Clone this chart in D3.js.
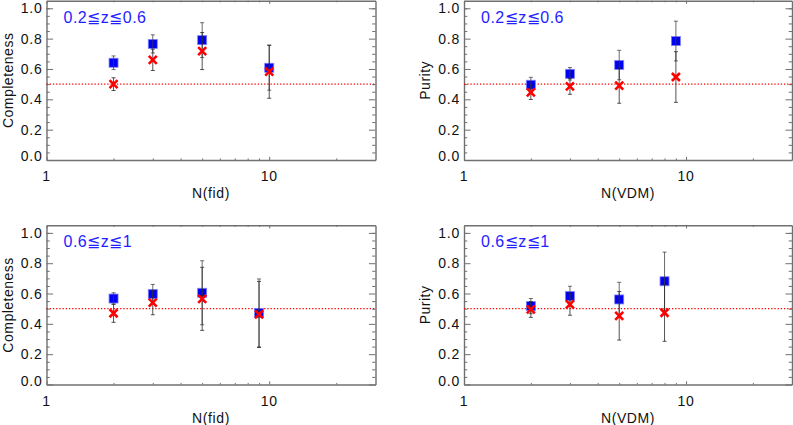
<!DOCTYPE html>
<meta charset="utf-8">
<head>
  <title>Completeness and purity</title>
</head>

<style>
body { margin: 0; background: #fff; }
text { font-family: "Liberation Sans", Arial, sans-serif; fill: #111; }
.axis line, .axis path { stroke: #707070; }
</style>

<body>
  <svg id="chart" width="793" height="425"></svg>

  <script src="https://cdnjs.cloudflare.com/ajax/libs/d3/7.8.5/d3.min.js"></script>
  <script>
// ---- data ----
// top left: completeness vs N(fid), 0.2<=z<=0.6
var xCompLo = [2, 3, 5, 10]
var compLoBlue = [0.641, 0.765, 0.790, 0.608]
var compLoBlueErr = [0.045, 0.060, 0.115, 0.148]
var compLoRed = [0.500, 0.660, 0.718, 0.582]
var compLoRedErr = [0.042, 0.070, 0.122, 0.175]

// top right: purity vs N(VDM), 0.2<=z<=0.6
var xPurLo = [2, 3, 5, 9]
var purLoBlue = [0.496, 0.568, 0.626, 0.784]
var purLoBlueErr = [0.049, 0.041, 0.097, 0.131]
var purLoRed = [0.446, 0.485, 0.490, 0.547]
var purLoRedErr = [0.047, 0.052, 0.116, 0.167]

// bottom left: completeness vs N(fid), 0.6<=z<=1
var xCompHi = [2, 3, 5, 9]
var compHiBlue = [0.567, 0.597, 0.605, 0.472]
var compHiBlueErr = [0.038, 0.063, 0.211, 0.224]
var compHiRed = [0.470, 0.540, 0.565, 0.462]
var compHiRedErr = [0.060, 0.080, 0.208, 0.218]

// bottom right: purity vs N(VDM), 0.6<=z<=1
var xPurHi = [2, 3, 5, 8]
var purHiBlue = [0.517, 0.583, 0.561, 0.681]
var purHiBlueErr = [0.050, 0.065, 0.113, 0.192]
var purHiRed = [0.495, 0.528, 0.453, 0.473]
var purHiRedErr = [0.052, 0.071, 0.160, 0.188]

var xDomain = [1, 30]
var yDomain = [0, 1.05]
var xMajor = [1, 10]
var xMinor = [2, 3, 4, 5, 6, 7, 8, 9, 20]
var yMajor = [0, 0.2, 0.4, 0.6, 0.8, 1.0]
var yMinor = [0.05, 0.1, 0.15, 0.25, 0.3, 0.35, 0.45, 0.5, 0.55, 0.65, 0.7, 0.75, 0.85, 0.9, 0.95, 1.0]
var threshold = 0.5

var panels = [
  {x: xCompLo, blue: compLoBlue, blueErr: compLoBlueErr, red: compLoRed, redErr: compLoRedErr,
   xlab: 'N(fid)', ylab: 'Completeness', note: '0.2≦z≦0.6', left: 46.5, right: 375.5, top: 0.7, bottom: 160},
  {x: xPurLo, blue: purLoBlue, blueErr: purLoBlueErr, red: purLoRed, redErr: purLoRedErr,
   xlab: 'N(VDM)', ylab: 'Purity', note: '0.2≦z≦0.6', left: 464, right: 792, top: 0.7, bottom: 160},
  {x: xCompHi, blue: compHiBlue, blueErr: compHiBlueErr, red: compHiRed, redErr: compHiRedErr,
   xlab: 'N(fid)', ylab: 'Completeness', note: '0.6≦z≦1', left: 46.5, right: 375.5, top: 225.3, bottom: 384.5},
  {x: xPurHi, blue: purHiBlue, blueErr: purHiBlueErr, red: purHiRed, redErr: purHiRedErr,
   xlab: 'N(VDM)', ylab: 'Purity', note: '0.6≦z≦1', left: 464, right: 792, top: 225.3, bottom: 384.5}
]

var svg = d3.select('#chart')

panels.forEach(function(p) {
  var x = d3.scaleLog().domain(xDomain).range([p.left, p.right])
  var y = d3.scaleLinear().domain(yDomain).range([p.bottom, p.top])
  var w = p.right - p.left, h = p.bottom - p.top
  // IDL style tick lengths: fraction of the plot size
  var xt = 0.02 * h, yt = 0.02 * w
  var g = svg.append('g')

  // axes on all four sides, ticks pointing inward
  var bottomAxis = d3.axisBottom(x).tickValues(xMajor).tickSize(-xt).tickFormat('')
  var topAxis = d3.axisTop(x).tickValues(xMajor).tickSize(-xt).tickFormat('')
  var leftAxis = d3.axisLeft(y).tickValues(yMajor).tickSize(-yt).tickFormat('')
  var rightAxis = d3.axisRight(y).tickValues(yMajor).tickSize(-yt).tickFormat('')

  g.append('g').attr('class', 'axis').attr('transform', 'translate(0,' + p.bottom + ')')
    .call(bottomAxis.tickSizeOuter(0))
  g.append('g').attr('class', 'axis').attr('transform', 'translate(0,' + p.top + ')')
    .call(topAxis.tickSizeOuter(0))
  g.append('g').attr('class', 'axis').attr('transform', 'translate(' + p.left + ',0)')
    .call(leftAxis.tickSizeOuter(0))
  g.append('g').attr('class', 'axis').attr('transform', 'translate(' + p.right + ',0)')
    .call(rightAxis.tickSizeOuter(0))

  // minor ticks
  g.append('g').attr('class', 'axis').attr('transform', 'translate(0,' + p.bottom + ')')
    .call(d3.axisBottom(x).tickValues(xMinor).tickSize(-xt / 2).tickSizeOuter(0).tickFormat(''))
    .select('.domain').remove()
  g.append('g').attr('class', 'axis').attr('transform', 'translate(0,' + p.top + ')')
    .call(d3.axisTop(x).tickValues(xMinor).tickSize(-xt / 2).tickSizeOuter(0).tickFormat(''))
    .select('.domain').remove()
  g.append('g').attr('class', 'axis').attr('transform', 'translate(' + p.left + ',0)')
    .call(d3.axisLeft(y).tickValues(yMinor).tickSize(-yt / 2).tickSizeOuter(0).tickFormat(''))
    .select('.domain').remove()
  g.append('g').attr('class', 'axis').attr('transform', 'translate(' + p.right + ',0)')
    .call(d3.axisRight(y).tickValues(yMinor).tickSize(-yt / 2).tickSizeOuter(0).tickFormat(''))
    .select('.domain').remove()

  g.selectAll('.axis path.domain').attr('stroke-width', 1.4)

  // tick labels
  g.selectAll('.ylab')
    .data(yMajor)
    .enter().append('text')
    .attr('x', p.left - 4)
    .attr('y', function(d) { return Math.min(y(d), p.bottom - 4) })
    .attr('dy', '0.36em')
    .attr('text-anchor', 'end')
    .style('font-size', '14px')
    .style('letter-spacing', '0.8px')
    .text(function(d) { return d3.format('.1f')(d) })

  g.selectAll('.xlab')
    .data(xMajor)
    .enter().append('text')
    .attr('x', function(d) { return x(d) })
    .attr('y', p.bottom + 21)
    .attr('text-anchor', 'middle')
    .style('font-size', '14px')
    .style('letter-spacing', '0.8px')
    .text(function(d) { return d })

  // axis titles
  g.append('text')
    .attr('x', (p.left + p.right) / 2)
    .attr('y', p.bottom + 38)
    .attr('text-anchor', 'middle')
    .style('font-size', '14px')
    .style('letter-spacing', '0.6px')
    .text(p.xlab)

  g.append('text')
    .attr('transform', 'translate(' + (p.left - 34) + ',' + ((p.top + p.bottom) / 2) + ') rotate(-90)')
    .attr('text-anchor', 'middle')
    .style('font-size', '14px')
    .style('letter-spacing', '0.5px')
    .text(p.ylab)

  // redshift note
  g.append('text')
    .attr('x', p.left + 17)
    .attr('y', p.top + 22)
    .style('font-size', '16px')
    .style('fill', '#1e1eff')
    .style('letter-spacing', '0.5px')
    .text(p.note)

  // dotted 0.5 line
  g.append('line')
    .attr('x1', p.left).attr('x2', p.right)
    .attr('y1', y(threshold)).attr('y2', y(threshold))
    .attr('stroke', '#ff0000')
    .attr('stroke-width', 1.3)
    .attr('stroke-dasharray', '1.3,1.9')

  var idx = d3.range(p.x.length)

  // blue squares
  g.selectAll('.sq')
    .data(idx)
    .enter().append('rect')
    .attr('x', function(i) { return x(p.x[i]) - 4.5 })
    .attr('y', function(i) { return y(p.blue[i]) - 4.5 })
    .attr('width', 9).attr('height', 9)
    .attr('fill', '#0000f2')
    .attr('stroke', '#7f7fff')
    .attr('stroke-width', 0.8)

  // error bars for both series
  function errBars(vals, errs, col) {
    var eb = g.append('g').attr('stroke', col).attr('stroke-width', 1).attr('fill', 'none')
    idx.forEach(function(i) {
      var cx = x(p.x[i]), y0 = y(vals[i] - errs[i]), y1 = y(vals[i] + errs[i])
      eb.append('line').attr('x1', cx).attr('x2', cx).attr('y1', y0).attr('y2', y1)
      eb.append('line').attr('x1', cx - 2).attr('x2', cx + 2).attr('y1', y0).attr('y2', y0)
      eb.append('line').attr('x1', cx - 2).attr('x2', cx + 2).attr('y1', y1).attr('y2', y1)
    })
  }
  errBars(p.blue, p.blueErr, 'rgba(60,60,60,0.75)')
  errBars(p.red, p.redErr, 'rgba(40,40,40,0.8)')

  // red crosses
  g.selectAll('.cross')
    .data(idx)
    .enter().append('path')
    .attr('d', function(i) {
      var cx = x(p.x[i]), cy = y(p.red[i]), s = 4
      return 'M' + (cx - s) + ',' + (cy - s) + 'L' + (cx + s) + ',' + (cy + s) +
             'M' + (cx - s) + ',' + (cy + s) + 'L' + (cx + s) + ',' + (cy - s)
    })
    .attr('stroke', '#ff0000')
    .attr('stroke-width', 2.6)
    .attr('fill', 'none')
})
  </script>
</body>
</html>
